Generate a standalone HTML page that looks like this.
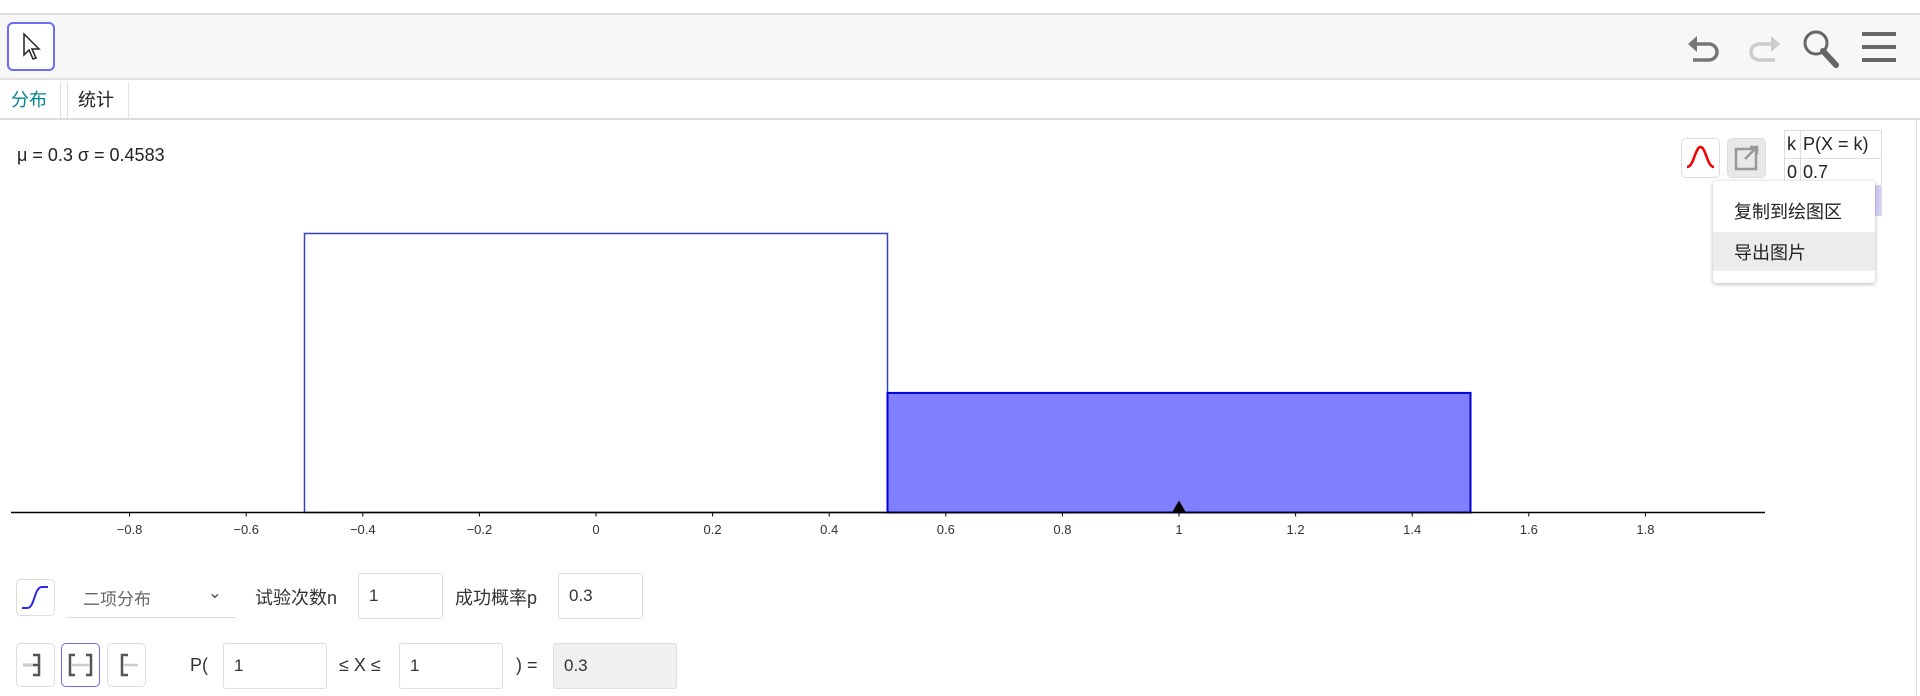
<!DOCTYPE html>
<html><head><meta charset="utf-8">
<style>
*{box-sizing:border-box}
body{margin:0;width:1920px;height:696px;overflow:hidden;background:#fff;font-family:"Liberation Sans","Noto Sans CJK SC",sans-serif;color:#333;position:relative}
.a{position:absolute}
.btn{position:absolute;border:1px solid #ddd;border-radius:5px;background:#fff}
.inp{position:absolute;border:1px solid #ddd;border-radius:3px;background:#fff;font-size:17px;padding:12px 0 0 10px;color:#333}
.lbl{position:absolute;font-size:18px;color:#333}
</style></head><body>
<div class="a" style="left:0;top:13px;width:1920px;height:2px;background:#ddd"></div>
<div class="a" style="left:0;top:15px;width:1920px;height:65px;background:#f7f7f7;border-bottom:2px solid #e0e0e0"></div>
<div class="btn" style="left:7px;top:22px;width:48px;height:49px;border:2px solid #6c6cf6;border-radius:6px">
<svg width="44" height="45" viewBox="0 0 44 45"><path d="M15 10 L15 31 L20 26 L24 35 L27 34 L23 25 L30 25 Z" fill="#fff" stroke="#222" stroke-width="1.5"/></svg></div>
<svg class="a" style="left:1685px;top:30px" width="40" height="38" viewBox="0 0 40 38"><path d="M6 14 H24 A8 8 0 0 1 24 30 H8" fill="none" stroke="#777" stroke-width="3.5"/><path d="M3 14 L12 6 L12 22 Z" fill="#777"/></svg>
<svg class="a" style="left:1743px;top:30px" width="40" height="38" viewBox="0 0 40 38"><path d="M34 14 H16 A8 8 0 0 0 16 30 H32" fill="none" stroke="#ccc" stroke-width="3.5"/><path d="M37 14 L28 6 L28 22 Z" fill="#ccc"/></svg>
<svg class="a" style="left:1800px;top:28px" width="42" height="42" viewBox="0 0 42 42"><circle cx="16" cy="15" r="11" fill="none" stroke="#666" stroke-width="3"/><path d="M23 23 L36 37" stroke="#666" stroke-width="6" stroke-linecap="round"/></svg>
<svg class="a" style="left:1860px;top:30px" width="40" height="36" viewBox="0 0 40 36"><rect x="2" y="2" width="34" height="4" fill="#666"/><rect x="2" y="15" width="34" height="4" fill="#666"/><rect x="2" y="28" width="34" height="4" fill="#666"/></svg>
<div class="a" style="left:0;top:82px;width:61px;height:37px;border-right:1px solid #e0e0e0;font-size:18px;color:#00868b;padding:4px 0 0 11px">分布</div>
<div class="a" style="left:67px;top:82px;width:62px;height:37px;border-left:1px solid #e0e0e0;border-right:1px solid #e0e0e0;font-size:18px;color:#222;padding:4px 0 0 10px">统计</div>
<div class="a" style="left:0;top:118px;width:1920px;height:2px;background:#ddd"></div>
<div class="a" style="left:1916px;top:118px;width:1px;height:578px;background:#ddd"></div>
<div class="a" style="left:17px;top:145px;font-size:18px;color:#222">μ = 0.3 σ = 0.4583</div>
<svg class="a" id="chart" style="left:0;top:0" width="1920" height="560"></svg>
<div class="btn" style="left:1681px;top:138px;width:39px;height:40px"><svg width="37" height="38"><path d="M5 28 C12 28 13 8 18.5 8 C24 8 25 28 32 28" fill="none" stroke="#e00" stroke-width="2.5"/></svg></div>
<div class="btn" style="left:1727px;top:138px;width:39px;height:40px;background:#e8e8e8"><svg width="37" height="38"><rect x="8" y="10" width="20" height="20" fill="none" stroke="#999" stroke-width="2.5"/><path d="M17 20 L29 8 M22 8 H29 V15" fill="none" stroke="#999" stroke-width="2.5"/></svg></div>
<table class="a" style="left:1784px;top:130px;width:98px;border-collapse:collapse;font-size:18px;color:#222">
<tr><td style="border:1px solid #ddd;padding:2px 2px;height:28px;width:16px">k</td><td style="border:1px solid #ddd;padding:2px 2px">P(X = k)</td></tr>
<tr><td style="border:1px solid #ddd;padding:2px 2px;height:27px">0</td><td style="border:1px solid #ddd;padding:2px 2px">0.7</td></tr>
<tr><td style="border:1px solid #ddd;height:30px"></td><td style="border:1px solid #ddd;background:#d0d0fa"></td></tr>
</table>
<div class="a" style="left:1713px;top:181px;width:162px;height:102px;background:#fff;border-radius:3px;box-shadow:0 1px 4px rgba(0,0,0,.3)">
<div style="height:51px;padding:17px 0 0 21px;font-size:18px;color:#222">复制到绘图区</div>
<div style="height:39px;padding:7px 0 0 21px;font-size:18px;color:#222;background:#ececec">导出图片</div>
</div>
<div class="btn" style="left:16px;top:579px;width:39px;height:37px"><svg width="37" height="35"><path d="M5 28 H10 C18 28 17 7 25 7 H31" fill="none" stroke="#2a2ae8" stroke-width="2"/></svg></div>
<div class="a" style="left:67px;top:573px;width:169px;height:45px;border-bottom:1px solid #ddd;font-size:17px;color:#666;padding:12px 0 0 16px">二项分布<span style="position:absolute;right:14px;top:10px;color:#555">⌄</span></div>
<div class="lbl" style="left:255px;top:584px">试验次数n</div>
<div class="inp" style="left:358px;top:573px;width:85px;height:46px">1</div>
<div class="lbl" style="left:455px;top:584px">成功概率p</div>
<div class="inp" style="left:558px;top:573px;width:85px;height:46px">0.3</div>
<div class="btn" style="left:16px;top:643px;width:39px;height:44px"><svg width="37" height="42"><path d="M6 21 H22 M16 11 H22 V31 H16" fill="none" stroke="#555" stroke-width="2.5"/><path d="M6 21 H16" stroke="#ccc" stroke-width="2.5"/></svg></div>
<div class="btn" style="left:61px;top:643px;width:39px;height:44px;border-color:#6c6cf6"><svg width="37" height="42"><path d="M13 11 H8 V31 H13 M24 11 H29 V31 H24" fill="none" stroke="#555" stroke-width="2.5"/><path d="M9 21 H28" stroke="#ccc" stroke-width="2.5"/></svg></div>
<div class="btn" style="left:107px;top:643px;width:39px;height:44px"><svg width="37" height="42"><path d="M20 11 H14 V31 H20" fill="none" stroke="#555" stroke-width="2.5"/><path d="M15 21 H30" stroke="#ccc" stroke-width="2.5"/></svg></div>
<div class="lbl" style="left:190px;top:655px">P(</div>
<div class="inp" style="left:223px;top:643px;width:104px;height:46px">1</div>
<div class="lbl" style="left:339px;top:655px">≤ X ≤</div>
<div class="inp" style="left:399px;top:643px;width:104px;height:46px">1</div>
<div class="lbl" style="left:516px;top:655px">) =</div>
<div class="inp" style="left:553px;top:643px;width:124px;height:46px;background:#f0f0f0">0.3</div>
<script>
const categories=[0,1];
const probs=[0.7,0.3];
const selected=[false,true];
const ticks=[-0.8,-0.6,-0.4,-0.2,0,0.2,0.4,0.6,0.8,1,1.2,1.4,1.6,1.8];
const marker=1;
const NS="http://www.w3.org/2000/svg";
const svg=document.getElementById('chart');
const X=v=>596+v*583;
const Y=v=>512.5-v*398.6;
function mk(t,a){const e=document.createElementNS(NS,t);for(const k in a)e.setAttribute(k,a[k]);svg.appendChild(e);return e;}
categories.forEach((c,i)=>{
  const r=mk('rect',{x:X(c-0.5),y:Y(probs[i]),width:X(c+0.5)-X(c-0.5),height:Y(0)-Y(probs[i]),fill:selected[i]?'#8080ff':'#fff',stroke:selected[i]?'#0000dd':'#3344bb','stroke-width':selected[i]?2:1.5});
  
  
});
const ax=mk('line',{x1:11,x2:1765,y1:Y(0),y2:Y(0),stroke:'#000','stroke-width':1.5});


ticks.forEach(t=>{
  mk('line',{x1:X(t),x2:X(t),y1:Y(0),y2:Y(0)+4,stroke:'#000'});
  const tx=mk('text',{x:X(t),y:534,'text-anchor':'middle','font-size':13,fill:'#333','font-family':'Liberation Sans, sans-serif'});
  tx.textContent=(t<0?'\u2212'+Math.abs(t):String(t));
  
  
});
const m=mk('path',{d:`M${X(marker)-7} ${Y(0)} L${X(marker)} ${Y(0)-12} L${X(marker)+7} ${Y(0)} Z`,fill:'#000'});


</script>
</body></html>
